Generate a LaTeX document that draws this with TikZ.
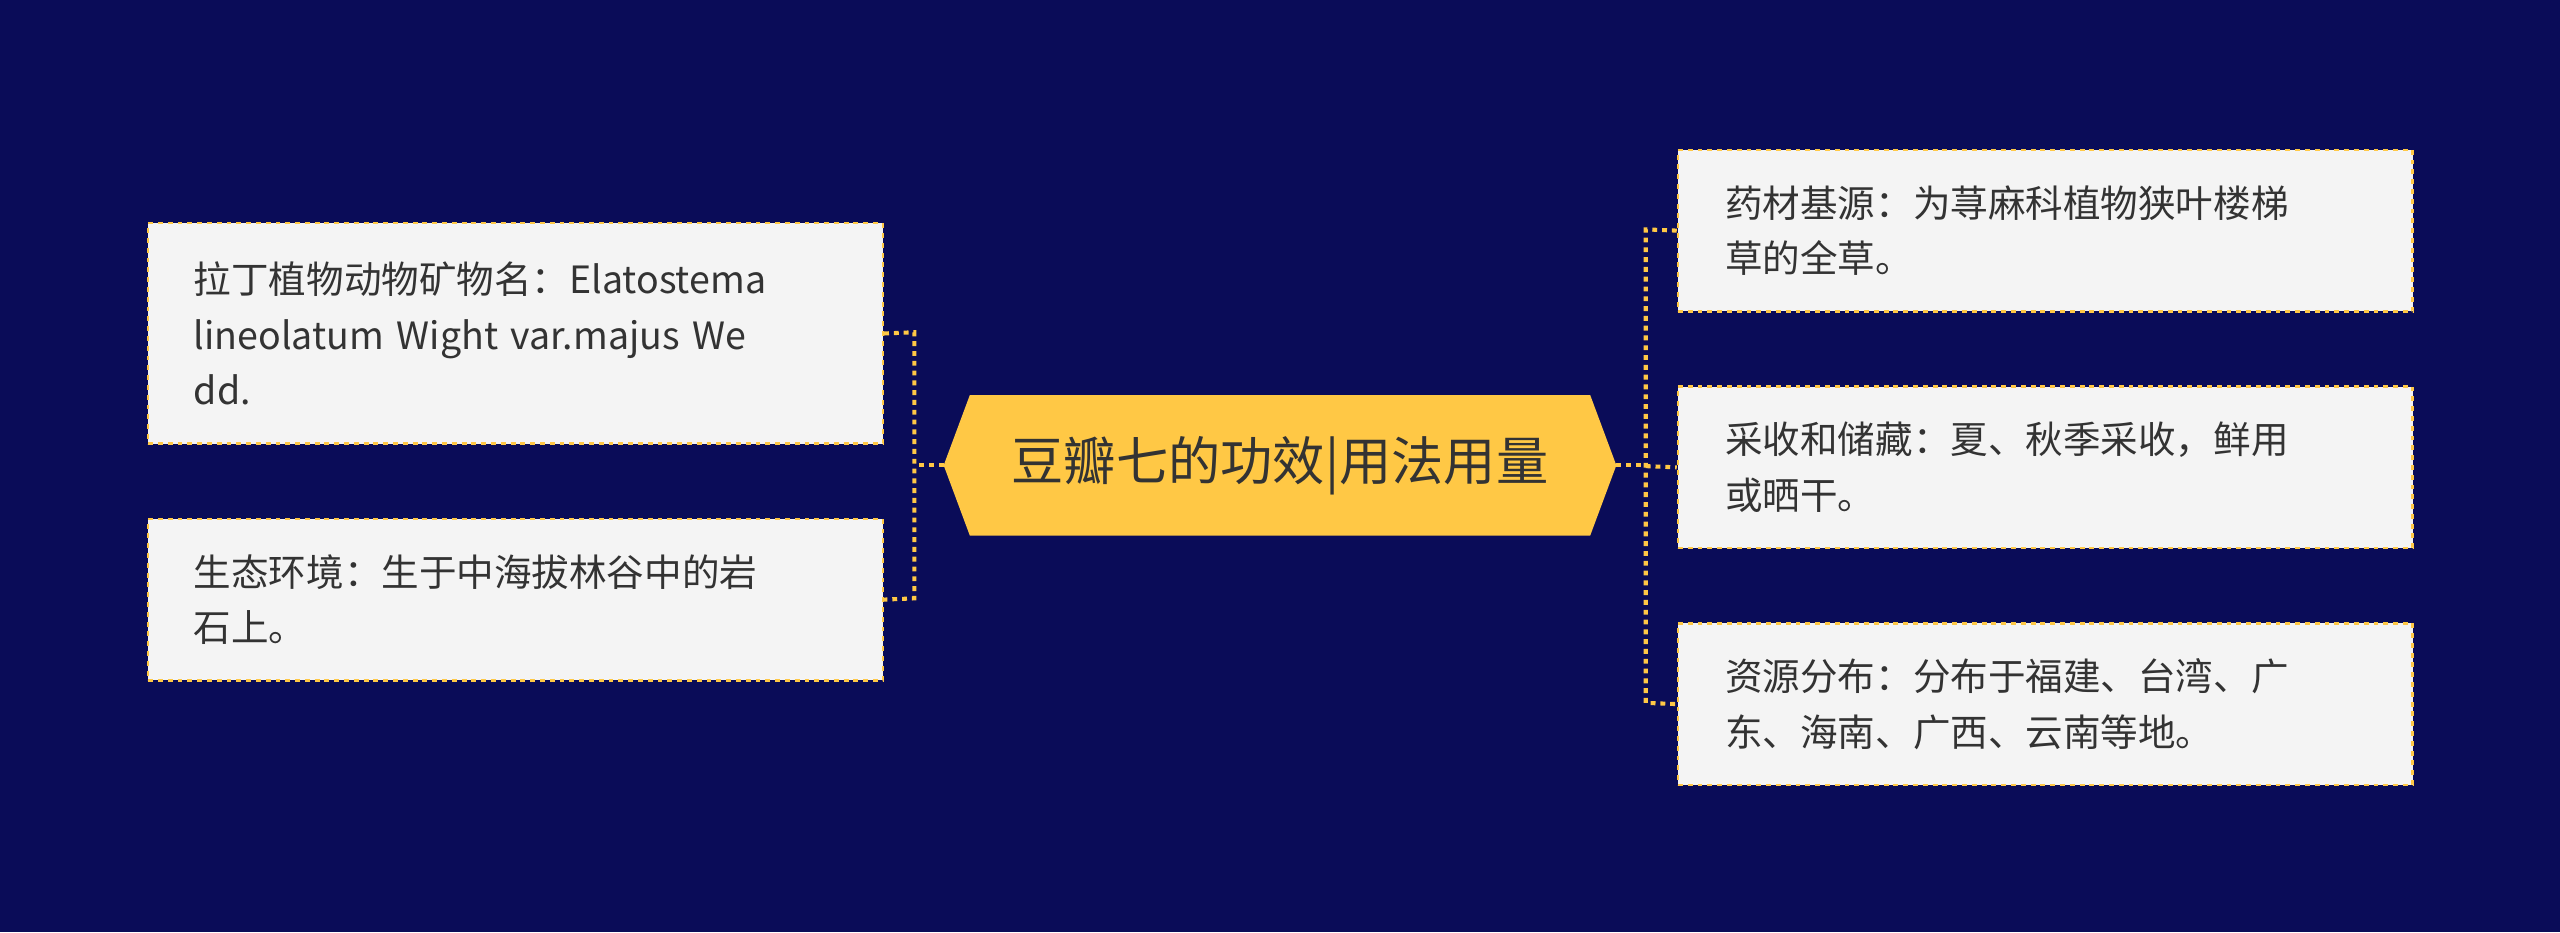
\documentclass[tikz,border=0pt]{standalone}
\usepackage{fontspec}
\setmainfont{Noto Sans CJK SC}
\definecolor{bg}{HTML}{0A0C58}
\definecolor{gold}{HTML}{FFC845}
\definecolor{leaf}{HTML}{F4F4F4}
\definecolor{txt}{HTML}{333333}
\begin{document}
\begin{tikzpicture}[x=1pt,y=-1pt,
 leafbox/.style={draw=gold,dashed,line width=1.5pt,fill=leaf,rectangle,minimum width=450pt,text width=420pt,align=left,inner sep=0pt,text=txt,font=\fontsize{23}{34}\selectfont,anchor=north west},
 link/.style={draw=gold,dashed,line width=2.5pt}]
\fill[bg] (0,0) rectangle (1568,571);
\useasboundingbox (0,0) rectangle (1568,571);
\fill[gold] (578,285) -- (594,242) -- (974,242) -- (990,285) -- (974,328) -- (594,328) -- cycle;
\node[text=txt,font=\fontsize{32}{38}\selectfont] (c) at (784,285) {豆瓣七的功效|用法用量};
\coordinate (cl) at (578,285); \coordinate (cr) at (990,285);
\node[leafbox,minimum height=135pt] (l1) at (90,136) {\hspace*{13pt}\parbox{425pt}{拉丁植物动物矿物名：Elatostema\\ lineolatum Wight var.majus We\\dd.}};
\node[leafbox,minimum height=99pt] (l2) at (90,317) {\hspace*{13pt}\parbox{425pt}{生态环境：生于中海拔林谷中的岩\\石上。}};
\node[leafbox,minimum height=99pt] (r1) at (1027,91) {\hspace*{14pt}\parbox{425pt}{药材基源：为荨麻科植物狭叶楼梯\\草的全草。}};
\node[leafbox,minimum height=99pt] (r2) at (1027,236) {\hspace*{14pt}\parbox{425pt}{采收和储藏：夏、秋季采收，鲜用\\或晒干。}};
\node[leafbox,minimum height=99pt] (r3) at (1027,381) {\hspace*{14pt}\parbox{425pt}{资源分布：分布于福建、台湾、广\\东、海南、广西、云南等地。}};
\draw[link] (cl) -- (560,285);
\draw[link] (l1.east) -- (560,203.5) -- (560,366.5) -- (l2.east);
\draw[link] (cr) -- (1008,285);
\draw[link] (r1.west) -- (1008,140.5) -- (1008,430.5) -- (r3.west);
\draw[link] (1008,285.5) -- (r2.west);
\end{tikzpicture}
\end{document}
